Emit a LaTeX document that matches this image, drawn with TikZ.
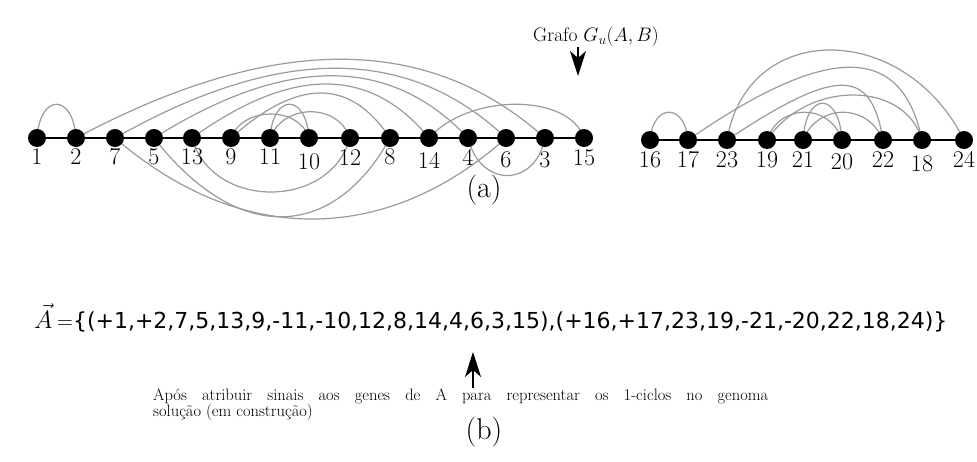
\RequirePackage{fix-cm}
\documentclass[tikz,border=0pt]{standalone}
\usepackage{fontspec}
\newfontfamily\dvs{DejaVu Sans}
\usetikzlibrary{arrows.meta,backgrounds}

\definecolor{edgegray}{RGB}{155,155,155}

\begin{document}
\begin{tikzpicture}[x=1pt,y=-1pt,
  vtx/.style={circle,fill=black,inner sep=0pt,minimum size=18pt},
  lbl/.style={inner sep=0pt,font=\fontsize{24}{26}\selectfont},
  gedge/.style={draw=edgegray,line width=1.2pt},
  spine/.style={line width=1.8pt},
  pointer/.style={line width=1.2pt,-{Stealth[length=25pt,width=16pt,inset=7pt]}}]

\useasboundingbox (0,0) rectangle (977,461);

% genes of the first chromosome
\foreach \g/\x/\dy in {1/37/0,2/76/0,7/115/0,5/154/0,13/192/0,9/231/0,11/270/0,10/309/5,
                      12/350/1,8/390/0,14/429/3,4/468/0,6/506/3,3/545/3,15/584/1}{
  \node[vtx] (n\g) at (\x,138) {};
  \node[lbl] (l\g) at (\x,157+\dy) {\g};
}
% genes of the second chromosome
\foreach \g/\x/\dy in {16/650/0,17/688/0,23/727/0,19/767/0,21/803/0,20/842/2,22/883/0,18/922/4,24/964/-1}{
  \node[vtx] (n\g) at (\x,140) {};
  \node[lbl] (l\g) at (\x,160+\dy) {\g};
}

\draw[spine] (n1) -- (n15);
\draw[spine] (n16) -- (n24);

\begin{scope}[on background layer]
  \fill[white] (0,0) rectangle (977,461);
  % edges above the first chromosome
  \draw[gedge] (n1.center)  .. controls +(3,-45)   and +(-3,-45)   .. (n2.center);
  \draw[gedge] (n2.center)  .. controls +(197,-105) and +(-117,-105) .. (n3.center);
  \draw[gedge] (n7.center)  .. controls +(164,-93)  and +(-98,-93)   .. (n6.center);
  \draw[gedge] (n5.center)  .. controls +(132,-83)  and +(-78,-83)   .. (n4.center);
  \draw[gedge] (n13.center) .. controls +(100,-72)  and +(-59,-72)   .. (n14.center);
  \draw[gedge] (n9.center)  .. controls +(67,-60)   and +(-40,-60)   .. (n8.center);
  \draw[gedge] (n11.center) .. controls +(14,-35)   and +(-12,-35)   .. (n12.center);
  \draw[gedge] (n9.center)  .. controls +(12,-32)   and +(-10,-32)   .. (n10.center);
  \draw[gedge] (n11.center) .. controls +(3,-45)    and +(-3,-45)    .. (n10.center);
  \draw[gedge] (n14.center) .. controls +(40,-45)   and +(-15,-45)   .. (n15.center);
  % edges below the first chromosome
  \draw[gedge] (n7.center)  .. controls +(130,112)  and +(-116,104)  .. (n6.center);
  \draw[gedge] (n5.center)  .. controls +(86,110)   and +(-55,100)   .. (n8.center);
  \draw[gedge] (n13.center) .. controls +(20,72)    and +(-20,72)    .. (n12.center);
  \draw[gedge] (n4.center)  .. controls +(12,50)    and +(-10,50)    .. (n3.center);
  % edges above the second chromosome
  \draw[gedge] (n16.center) .. controls +(3,-37)    and +(-3,-37)    .. (n17.center);
  \draw[gedge] (n23.center) .. controls +(20,-120)  and +(-60,-120)  .. (n24.center);
  \draw[gedge] (n17.center) .. controls +(140,-97)  and +(-20,-97)   .. (n18.center);
  \draw[gedge] (n23.center) .. controls +(110,-73)  and +(-12,-73)   .. (n22.center);
  \draw[gedge] (n19.center) .. controls +(40,-60)   and +(-17,-60)   .. (n18.center);
  \draw[gedge] (n21.center) .. controls +(15,-37)   and +(-15,-37)   .. (n22.center);
  \draw[gedge] (n19.center) .. controls +(12,-37)   and +(-12,-37)   .. (n20.center);
  \draw[gedge] (n21.center) .. controls +(3,-49)    and +(-3,-49)    .. (n20.center);
\end{scope}

% graph title and its pointer
\node[font=\fontsize{19.5}{22}\selectfont] (gtitle) at (596,37) {Grafo $G_u(A,B)$};
\coordinate (ga) at (578,47);
\coordinate (gb) at (578,76);
\draw[pointer] (ga) -- (gb);

\node[font=\fontsize{30}{32}\selectfont] (capa) at (484,190) {(a)};

% signed genome
\node[anchor=base west,inner sep=0pt,font=\fontsize{25}{28}\selectfont] (vecA) at (34,328) {$\vec{A}$};
\node[anchor=base west,inner sep=0pt,font=\fontsize{22}{24}\selectfont] (seq) at (57,328)
  {$=$\dvs\{(+1,+2,7,5,13,9,-11,-10,12,8,14,4,6,3,15),(+16,+17,23,19,-21,-20,22,18,24)\}};

\coordinate (pa) at (473,388);
\coordinate (pb) at (473,352);
\draw[pointer] (pa) -- (pb);

\node[anchor=base west,inner sep=0pt,font=\fontsize{16.5}{17}\selectfont] (note1) at (153,400)
  {\makebox[615pt][s]{Após atribuir sinais aos genes de A para representar os 1-ciclos no genoma}};
\node[anchor=base west,inner sep=0pt,font=\fontsize{16.5}{17}\selectfont] (note2) at (153,416.5)
  {solução (em construção)};

\node[font=\fontsize{30}{32}\selectfont] (capb) at (484,432) {(b)};
\end{tikzpicture}
\end{document}
